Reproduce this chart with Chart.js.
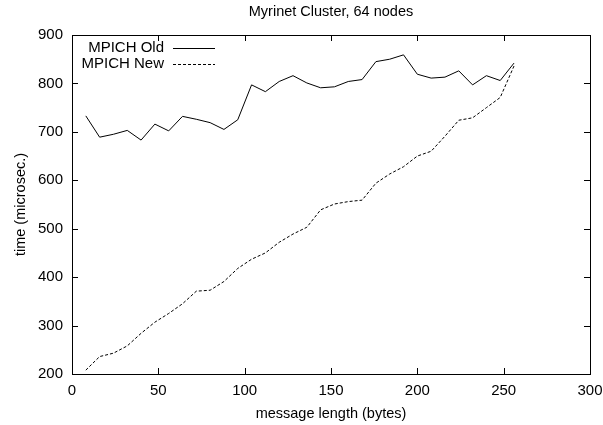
<!DOCTYPE html>
<html>
<head>
<meta charset="utf-8">
<script src="https://cdn.jsdelivr.net/npm/chart.js@4"></script>
<style>
  html, body { margin: 0; padding: 0; background: #fff; }
  canvas { display: block; }
</style>
</head>
<body>
<canvas id="chart" width="603" height="425"></canvas>
<script>
// 1. Data
const msgLength = [8, 16, 24, 32, 40, 48, 56, 64, 72, 80, 88, 96, 104, 112, 120, 128,
                   136, 144, 152, 160, 168, 176, 184, 192, 200, 208, 216, 224, 232, 240, 248, 256];
const mpichOld = [733, 689, 695, 703, 683, 716, 702, 732, 726, 719, 705, 725, 797, 783, 804, 816,
                  801, 791, 793, 804, 808, 845, 850, 859, 819, 811, 813, 826, 797, 816, 806, 842];
const mpichNew = [208, 236, 243, 258, 284, 307, 325, 345, 371, 373, 391, 418, 437, 450, 472, 489,
                  503, 539, 551, 556, 559, 594, 613, 628, 650, 660, 691, 724, 729, 750, 771, 836];
const xTicks = [0, 50, 100, 150, 200, 250, 300];
const yTicks = [200, 300, 400, 500, 600, 700, 800, 900];
const seriesNames = ['MPICH Old', 'MPICH New'];

const FAMILY = '"Liberation Sans", Arial, sans-serif';

// 2. Frame, inward ticks, title and legend (gnuplot look)
const frame = {
    id: 'frame',
    afterDraw(chart) {
        const { ctx, chartArea: a, scales } = chart;
        ctx.save();
        ctx.strokeStyle = '#000';
        ctx.lineWidth = 1;
        ctx.strokeRect(a.left + 0.5, a.top + 0.5, a.right - a.left, a.bottom - a.top);
        ctx.beginPath();
        xTicks.forEach(v => {
            const px = Math.round(scales.x.getPixelForValue(v)) + 0.5;
            ctx.moveTo(px, a.bottom); ctx.lineTo(px, a.bottom - 6);
            ctx.moveTo(px, a.top); ctx.lineTo(px, a.top + 6);
        });
        yTicks.forEach(v => {
            const py = Math.round(scales.y.getPixelForValue(v)) + 0.5;
            ctx.moveTo(a.left, py); ctx.lineTo(a.left + 6, py);
            ctx.moveTo(a.right, py); ctx.lineTo(a.right - 6, py);
        });
        ctx.stroke();

        // 2.1 title
        ctx.fillStyle = '#000';
        ctx.font = '14.5px ' + FAMILY;
        ctx.textAlign = 'center';
        ctx.textBaseline = 'middle';
        ctx.fillText('Myrinet Cluster, 64 nodes', (a.left + a.right) / 2, 12);

        // 2.2 legend, text then sample line
        ctx.font = '15px ' + FAMILY;
        ctx.textAlign = 'right';
        chart.data.datasets.forEach((ds, i) => {
            const y = 48 + i * 16;
            ctx.fillText(ds.label, 164, y);
            ctx.beginPath();
            ctx.setLineDash(ds.borderDash || []);
            ctx.moveTo(173, y + 0.5); ctx.lineTo(215, y + 0.5);
            ctx.stroke();
        });
        ctx.restore();
    }
};

// 3. Chart
new Chart(document.getElementById('chart'), {
    type: 'line',
    data: {
        datasets: [
            { label: seriesNames[0], data: msgLength.map((x, i) => ({ x, y: mpichOld[i] })),
              borderColor: '#000', borderWidth: 1, pointRadius: 0, tension: 0 },
            { label: seriesNames[1], data: msgLength.map((x, i) => ({ x, y: mpichNew[i] })),
              borderColor: '#000', borderWidth: 1, borderDash: [3, 2], pointRadius: 0, tension: 0 }
        ]
    },
    options: {
        responsive: false,
        animation: false,
        layout: { padding: { left: 0, right: 13, top: 35, bottom: 0 } },
        plugins: { legend: { display: false }, title: { display: false }, tooltip: { enabled: false } },
        scales: {
            x: {
                type: 'linear', min: 0, max: 300,
                afterBuildTicks: s => { s.ticks = xTicks.map(v => ({ value: v })); },
                afterFit: s => { s.height = 51; s.paddingLeft = 0; s.paddingRight = 0; },
                grid: { display: false, drawTicks: false },
                border: { display: false },
                ticks: { color: '#000', font: { family: FAMILY, size: 15 }, padding: 8, maxRotation: 0 },
                title: { display: true, text: 'message length (bytes)', color: '#000',
                         font: { family: FAMILY, size: 14.5 }, padding: { top: 0, bottom: 2 } }
            },
            y: {
                min: 200, max: 900,
                afterBuildTicks: s => { s.ticks = yTicks.map(v => ({ value: v })); },
                afterFit: s => { s.width = 72; s.paddingTop = 0; s.paddingBottom = 0; },
                grid: { display: false, drawTicks: false },
                border: { display: false },
                ticks: { color: '#000', font: { family: FAMILY, size: 15 }, padding: 9 },
                title: { display: true, text: 'time (microsec.)', color: '#000',
                         font: { family: FAMILY, size: 14.5 }, padding: { top: 12, bottom: 4 } }
            }
        }
    },
    plugins: [frame]
});
</script>
</body>
</html>
